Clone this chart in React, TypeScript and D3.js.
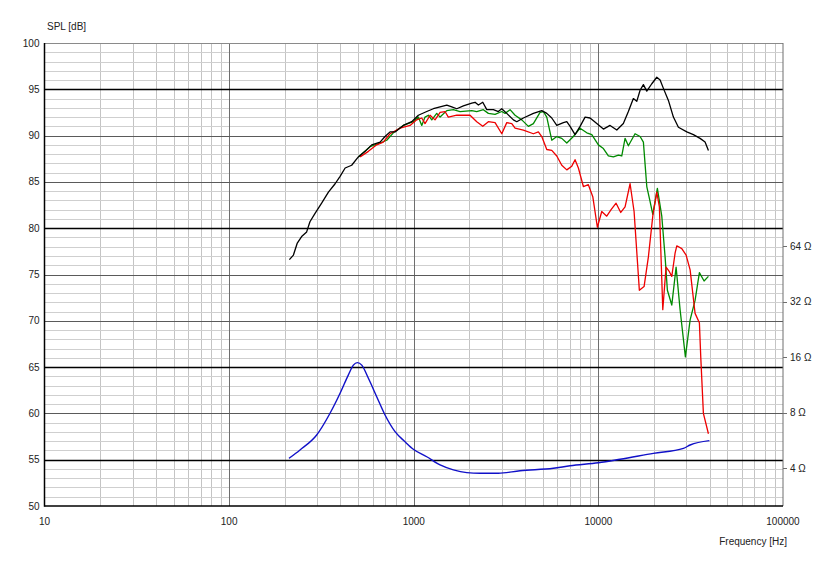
import React, { useEffect, useRef } from 'react';
import * as d3 from 'd3';

// SPL curves, frequency [Hz] and level [dB]
const blackFreq = [212, 223, 234, 247, 263, 274, 292, 317, 345, 375, 399, 425, 461, 501, 545, 592, 657, 699, 744, 792, 878, 975, 1059, 1176, 1277, 1510, 1607, 1710, 1857, 2062, 2148, 2239, 2365, 2486, 2700, 2872, 2998, 3190, 3465, 3614, 3925, 4446, 4936, 5254, 5592, 5952, 6464, 6744, 7027, 7477, 7960, 8472, 9017, 9804, 10646, 11570, 12582, 13656, 14536, 15470, 16144, 16825, 17532, 18290, 19470, 20720, 21600, 22500, 23950, 25490, 27130, 30130, 32700, 35550, 37840, 39450];
const blackSpl = [76.6, 77.1, 78.4, 79.1, 79.6, 80.7, 81.6, 82.7, 83.9, 84.8, 85.6, 86.5, 86.8, 87.7, 88.3, 89.0, 89.3, 89.9, 90.4, 90.4, 91.1, 91.5, 92.2, 92.6, 92.9, 93.3, 93.1, 92.9, 93.2, 93.5, 93.6, 93.3, 93.6, 92.8, 92.8, 92.6, 92.9, 92.4, 91.7, 91.5, 91.9, 92.4, 92.7, 92.4, 91.9, 91.1, 91.4, 91.5, 91.0, 90.1, 91.0, 92.0, 91.9, 91.3, 90.7, 91.1, 90.6, 91.3, 92.6, 94.0, 93.7, 94.9, 95.5, 94.8, 95.6, 96.3, 96.0, 95.1, 93.8, 92.0, 90.9, 90.4, 90.1, 89.7, 89.3, 88.4];

const greenFreq = [501, 580, 657, 714, 775, 878, 995, 1059, 1105, 1151, 1200, 1252, 1332, 1389, 1510, 1639, 1781, 2062, 2194, 2382, 2536, 2757, 2998, 3123, 3324, 3538, 3847, 4177, 4446, 4832, 5035, 5254, 5592, 5952, 6335, 6744, 7320, 7960, 8655, 9211, 10000, 10646, 11330, 12060, 12840, 13390, 13950, 14536, 15800, 16825, 17532, 18290, 19000, 19710, 20870, 22050, 22980, 23650, 24980, 26360, 27710, 29600, 31400, 33400, 35250, 37370, 39450];
const greenSpl = [87.7, 88.8, 89.2, 89.5, 90.3, 91.1, 91.5, 92.0, 91.1, 92.0, 92.2, 91.7, 92.4, 92.0, 92.7, 92.8, 92.6, 92.7, 92.6, 92.8, 92.4, 92.3, 92.6, 92.4, 92.8, 92.2, 91.7, 91.0, 91.3, 92.5, 92.6, 92.0, 89.5, 89.9, 89.7, 89.2, 89.9, 90.8, 90.3, 90.1, 89.0, 88.6, 87.8, 87.7, 87.9, 87.8, 89.7, 88.9, 90.2, 89.9, 89.3, 84.5, 83.0, 81.5, 84.3, 81.3, 76.9, 73.3, 71.7, 75.8, 71.2, 66.1, 70.1, 72.2, 75.2, 74.3, 74.8];

const redFreq = [512, 568, 630, 684, 744, 843, 955, 1038, 1105, 1151, 1226, 1304, 1389, 1477, 1539, 1710, 1937, 2018, 2194, 2365, 2536, 2757, 2998, 3190, 3396, 3538, 3925, 4446, 4732, 4936, 5254, 5592, 5952, 6335, 6744, 7176, 7477, 7795, 8292, 8826, 9327, 9876, 10430, 11100, 11720, 12470, 13220, 13950, 14850, 15610, 16670, 17680, 18660, 19710, 20720, 21400, 22330, 23260, 24240, 24980, 26030, 26590, 28300, 29870, 31400, 33400, 35250, 35870, 37050, 39450];
const redSpl = [87.7, 88.3, 89.0, 89.3, 90.2, 90.8, 91.1, 91.7, 91.9, 91.3, 92.2, 91.7, 92.5, 92.6, 92.0, 92.2, 92.2, 92.2, 91.5, 91.0, 91.5, 91.4, 90.2, 91.4, 91.3, 90.8, 90.6, 90.2, 90.4, 89.9, 88.5, 88.4, 87.8, 86.8, 86.3, 86.7, 87.4, 86.5, 84.5, 84.7, 83.4, 80.1, 81.8, 81.3, 82.0, 82.7, 81.7, 82.3, 84.8, 81.8, 73.3, 73.7, 76.9, 81.3, 83.9, 82.3, 71.2, 75.8, 75.3, 74.8, 77.3, 78.1, 77.8, 77.1, 75.5, 70.8, 69.8, 66.0, 60.0, 57.8];

// Impedance curve, frequency [Hz] and [Ohm]
const impFreq = [211, 242, 298, 352, 399, 442, 471, 495, 523, 568, 630, 699, 792, 897, 995, 1176, 1389, 1639, 1937, 2287, 2872, 3765, 5705, 7027, 10000, 13110, 19860, 28880, 31400, 39930];
const impOhm = [4.53, 5.03, 6.06, 7.95, 10.2, 12.8, 14.5, 14.96, 14.5, 12.3, 9.78, 7.78, 6.32, 5.57, 5.07, 4.62, 4.17, 3.92, 3.79, 3.76, 3.76, 3.88, 4.0, 4.13, 4.29, 4.48, 4.82, 5.13, 5.35, 5.65];

const xTicks = [10, 100, 1000, 10000, 100000];
const yTicks = [50, 55, 60, 65, 70, 75, 80, 85, 90, 95, 100];
const yBlackLines = [55, 65, 80, 95];
const ohmTicks = [4, 8, 16, 32, 64];

const App: React.FC = () => {
    const svgRef = useRef<SVGSVGElement | null>(null);

    useEffect(() => {
        const width = 826;
        const height = 563;
        const margin = { top: 43, right: 43, bottom: 57, left: 44.5 };

        const svg = d3.select(svgRef.current)
            .attr('width', width)
            .attr('height', height);
        svg.selectAll('*').remove();

        const x = d3.scaleLog()
            .domain([10, 100000])
            .range([margin.left, width - margin.right]);
        const y = d3.scaleLinear()
            .domain([50, 100])
            .range([height - margin.bottom, margin.top]);
        // impedance axis, log2 on the right
        const yOhm = d3.scaleLog().base(2)
            .domain([4, 64])
            .range([468.3, 246.2]);

        const x0 = x(10), x1 = x(100000), yTop = y(100), yBot = y(50);
        const font = "'Liberation Sans', Arial, sans-serif";
        const fontSize = 10;

        // minor grid
        const minorX: number[] = [];
        for (let dec = 10; dec < 100000; dec *= 10) {
            for (let k = 2; k <= 9; k++) minorX.push(dec * k);
        }
        svg.append('g').selectAll('line')
            .data(minorX)
            .enter().append('line')
            .attr('x1', (d) => Math.round(x(d)) + 0.5).attr('x2', (d) => Math.round(x(d)) + 0.5)
            .attr('y1', yTop).attr('y2', yBot)
            .attr('stroke', '#c4c4c4').attr('stroke-width', 1);

        const minorY = d3.range(51, 100).filter((d) => d % 5 !== 0);
        svg.append('g').selectAll('line')
            .data(minorY)
            .enter().append('line')
            .attr('x1', x0).attr('x2', x1)
            .attr('y1', (d) => Math.round(y(d)) + 0.5).attr('y2', (d) => Math.round(y(d)) + 0.5)
            .attr('stroke', '#cfcfcf').attr('stroke-width', 1);

        // decade lines
        svg.append('g').selectAll('line')
            .data([100, 1000, 10000])
            .enter().append('line')
            .attr('x1', (d) => Math.round(x(d)) + 0.5).attr('x2', (d) => Math.round(x(d)) + 0.5)
            .attr('y1', yTop).attr('y2', yBot)
            .attr('stroke', '#6e6e6e').attr('stroke-width', 1);

        // major horizontal lines
        svg.append('g').selectAll('line')
            .data(yTicks.filter((d) => d > 50 && d < 100))
            .enter().append('line')
            .attr('x1', x0).attr('x2', x1)
            .attr('y1', (d) => Math.round(y(d)) + 0.5).attr('y2', (d) => Math.round(y(d)) + 0.5)
            .attr('stroke', (d) => (yBlackLines.includes(d) ? '#000' : '#5a5a5a'))
            .attr('stroke-width', (d) => (yBlackLines.includes(d) ? 1.4 : 1));

        // frame
        svg.append('line').attr('x1', x0).attr('x2', x1).attr('y1', yTop + 0.5).attr('y2', yTop + 0.5)
            .attr('stroke', '#8a8a8a');
        svg.append('line').attr('x1', x1).attr('x2', x1).attr('y1', yTop).attr('y2', yBot)
            .attr('stroke', '#6e6e6e');
        svg.append('line').attr('x1', x0).attr('x2', x0).attr('y1', yTop).attr('y2', yBot + 0.7)
            .attr('stroke', '#000').attr('stroke-width', 1.5);
        svg.append('line').attr('x1', x0).attr('x2', x1).attr('y1', yBot).attr('y2', yBot)
            .attr('stroke', '#000').attr('stroke-width', 1.5);

        // curves
        const splLine = (freq: number[], spl: number[], color: string) => {
            const pts = freq.map((f, i) => [f, spl[i]] as [number, number]);
            svg.append('path')
                .datum(pts)
                .attr('fill', 'none')
                .attr('stroke', color)
                .attr('stroke-width', 1.3)
                .attr('stroke-linejoin', 'round')
                .attr('d', d3.line<[number, number]>().x((d) => x(d[0])).y((d) => y(d[1])));
        };
        splLine(greenFreq, greenSpl, '#008a00');
        splLine(redFreq, redSpl, '#ee0000');
        splLine(blackFreq, blackSpl, '#000000');

        const impPts = impFreq.map((f, i) => [f, impOhm[i]] as [number, number]);
        svg.append('path')
            .datum(impPts)
            .attr('fill', 'none')
            .attr('stroke', '#1010c8')
            .attr('stroke-width', 1.4)
            .attr('d', d3.line<[number, number]>().curve(d3.curveMonotoneX).x((d) => x(d[0])).y((d) => yOhm(d[1])));

        // y labels
        svg.append('g').selectAll('text')
            .data(yTicks)
            .enter().append('text')
            .attr('x', 39.5).attr('y', (d) => y(d) + 3.5)
            .attr('text-anchor', 'end')
            .attr('font-family', font).attr('font-size', fontSize)
            .attr('fill', '#222')
            .text((d) => d);

        // x labels
        svg.append('g').selectAll('text')
            .data(xTicks)
            .enter().append('text')
            .attr('x', (d) => x(d)).attr('y', yBot + 19)
            .attr('text-anchor', 'middle')
            .attr('font-family', font).attr('font-size', fontSize)
            .attr('fill', '#222')
            .text((d) => d);

        // impedance axis
        svg.append('g').selectAll('line')
            .data(ohmTicks)
            .enter().append('line')
            .attr('x1', x1).attr('x2', x1 + 4)
            .attr('y1', (d) => Math.round(yOhm(d)) + 0.5).attr('y2', (d) => Math.round(yOhm(d)) + 0.5)
            .attr('stroke', '#6e6e6e');
        svg.append('g').selectAll('text')
            .data(ohmTicks)
            .enter().append('text')
            .attr('x', x1 + 7).attr('y', (d) => yOhm(d) + 3.5)
            .attr('font-family', font).attr('font-size', fontSize)
            .attr('fill', '#222')
            .text((d) => `${d} Ω`);

        svg.append('text')
            .attr('x', 47).attr('y', 30)
            .attr('font-family', font).attr('font-size', fontSize)
            .attr('fill', '#222')
            .text('SPL [dB]');
        svg.append('text')
            .attr('x', 787).attr('y', 545)
            .attr('text-anchor', 'end')
            .attr('font-family', font).attr('font-size', fontSize)
            .attr('fill', '#222')
            .text('Frequency [Hz]');
    }, []);

    return (
        <svg ref={svgRef} style={{ position: 'absolute', left: 0, top: 0, background: '#fff' }}></svg>
    );
};

export default App;
